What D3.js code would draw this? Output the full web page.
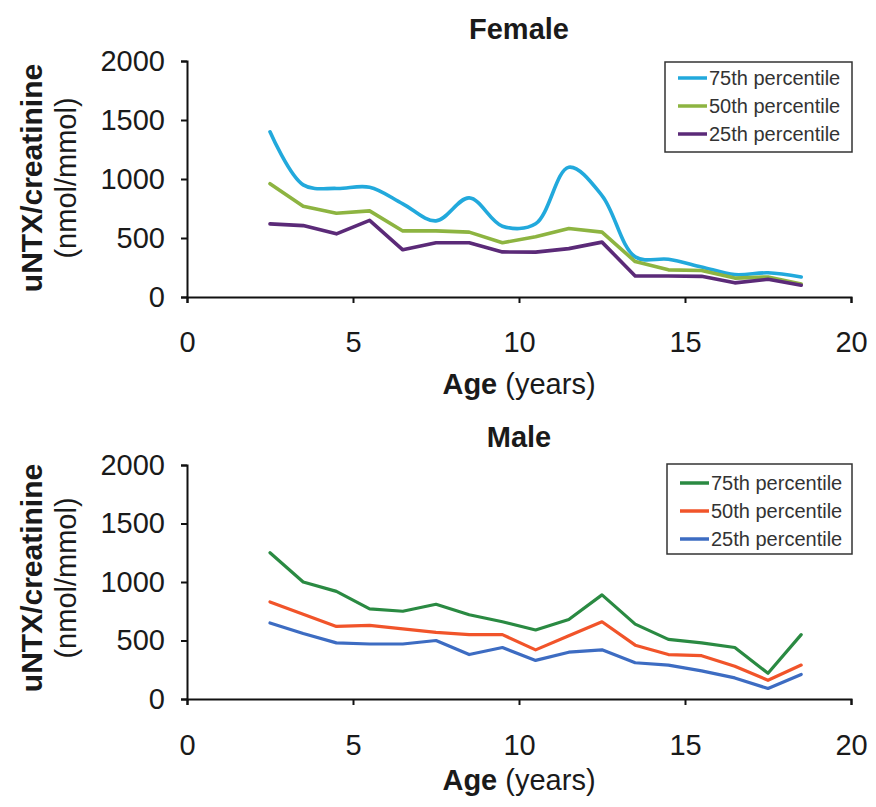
<!DOCTYPE html>
<html>
<head>
<meta charset="utf-8">
<script src="https://cdn.jsdelivr.net/npm/d3@7"></script>
<style>
  html, body { margin: 0; padding: 0; background: #ffffff; }
  svg { display: block; font-family: "Liberation Sans", Arial, sans-serif; }
</style>
</head>
<body>
<svg id="chart" width="876" height="807"></svg>
<script>
// ---------- data ----------
const ages = [2.5, 3.5, 4.5, 5.5, 6.5, 7.5, 8.5, 9.5, 10.5, 11.5, 12.5, 13.5, 14.5, 15.5, 16.5, 17.5, 18.5];

const female75 = [1400, 950, 920, 930, 790, 645, 840, 600, 620, 1100, 860, 340, 320, 255, 190, 205, 170];
const female50 = [960, 770, 710, 730, 560, 560, 550, 460, 510, 580, 550, 300, 230, 225, 160, 170, 110];
const female25 = [620, 605, 535, 650, 400, 460, 460, 382, 380, 410, 465, 178, 178, 175, 120, 150, 100];

const male75 = [1250, 1000, 920, 770, 750, 810, 720, 660, 590, 680, 890, 640, 510, 480, 440, 220, 550];
const male50 = [830, 725, 620, 630, 600, 570, 550, 550, 420, 540, 660, 460, 380, 370, 280, 160, 290];
const male25 = [650, 560, 480, 470, 470, 500, 380, 440, 330, 400, 420, 310, 290, 240, 180, 90, 210];

const seriesNames = ["75th percentile", "50th percentile", "25th percentile"];
const xTicks = [0, 5, 10, 15, 20];
const yTicks = [0, 500, 1000, 1500, 2000];

const panels = [
  { title: "Female", values: [female75, female50, female25],
    colors: ["#22a9dc", "#8db441", "#5b2a78"], smooth: [true, false, false],
    top: 61, bottom: 297, titleY: 39, tickPad: 28, xLabelY: 394, yLabelCenter: 178,
    legend: { x: 665, y: 62, w: 187, h: 90, rows: [78, 106, 134] }, width: 3.6 },
  { title: "Male", values: [male75, male50, male25],
    colors: ["#2a8a42", "#f1542a", "#3d6cc2"], smooth: [false, false, false],
    top: 465, bottom: 699, titleY: 447, tickPad: 29, xLabelY: 790, yLabelCenter: 578,
    legend: { x: 667, y: 464, w: 185, h: 90, rows: [483, 511, 539] }, width: 3.2 }
];

const svg = d3.select("#chart");
const left = 187, right = 851;
const textColor = "#1a1a1a";

panels.forEach(p => {
  const x = d3.scaleLinear().domain([0, 20]).range([left, right]);
  const y = d3.scaleLinear().domain([0, 2000]).range([p.bottom, p.top]);

  // axes
  const gx = svg.append("g")
    .attr("transform", `translate(0,${p.bottom})`)
    .call(d3.axisBottom(x).tickValues(xTicks).tickFormat(d3.format("d")).tickSize(6).tickPadding(p.tickPad));
  const gy = svg.append("g")
    .attr("transform", `translate(${left},0)`)
    .call(d3.axisLeft(y).tickValues(yTicks).tickFormat(d3.format("d")).tickSize(6).tickPadding(16));

  [gx, gy].forEach(g => {
    g.selectAll("path, line").attr("stroke", "#111").attr("stroke-width", 2);
    g.selectAll("text").attr("font-size", 29).attr("fill", textColor)
      .attr("font-family", "'Liberation Sans', Arial, sans-serif");
  });

  // lines
  p.values.forEach((vals, i) => {
    const line = d3.line()
      .x((d, j) => x(ages[j]))
      .y(d => y(d))
      .curve(p.smooth[i] ? d3.curveCatmullRom.alpha(0.5) : d3.curveLinear);
    svg.append("path")
      .datum(vals)
      .attr("d", line)
      .attr("fill", "none")
      .attr("stroke", p.colors[i])
      .attr("stroke-width", p.width)
      .attr("stroke-linejoin", "round")
      .attr("stroke-linecap", "round");
  });

  // title
  svg.append("text")
    .attr("x", (left + right) / 2).attr("y", p.titleY)
    .attr("text-anchor", "middle")
    .attr("font-size", 29).attr("font-weight", "bold").attr("fill", textColor)
    .text(p.title);

  // x label
  const xl = svg.append("text")
    .attr("x", 519).attr("y", p.xLabelY)
    .attr("text-anchor", "middle")
    .attr("font-size", 29).attr("fill", textColor);
  xl.append("tspan").attr("font-weight", "bold").text("Age");
  xl.append("tspan").text(" (years)");

  // y labels
  svg.append("text")
    .attr("transform", `translate(42,${p.yLabelCenter}) rotate(-90)`)
    .attr("text-anchor", "middle")
    .attr("font-size", 30).attr("font-weight", "bold").attr("fill", textColor)
    .text("uNTX/creatinine");
  svg.append("text")
    .attr("transform", `translate(76,${p.yLabelCenter}) rotate(-90)`)
    .attr("text-anchor", "middle")
    .attr("font-size", 29).attr("fill", textColor)
    .text("(nmol/mmol)");

  // legend
  const L = p.legend;
  svg.append("rect")
    .attr("x", L.x).attr("y", L.y).attr("width", L.w).attr("height", L.h)
    .attr("fill", "#ffffff").attr("stroke", "#333").attr("stroke-width", 1.5);
  seriesNames.forEach((name, i) => {
    svg.append("line")
      .attr("x1", L.x + 13).attr("x2", L.x + 42)
      .attr("y1", L.rows[i]).attr("y2", L.rows[i])
      .attr("stroke", p.colors[i]).attr("stroke-width", 3.5);
    svg.append("text")
      .attr("x", L.x + 44).attr("y", L.rows[i])
      .attr("dy", "0.35em")
      .attr("font-size", 20).attr("fill", "#333")
      .text(name);
  });
});
</script>
</body>
</html>
